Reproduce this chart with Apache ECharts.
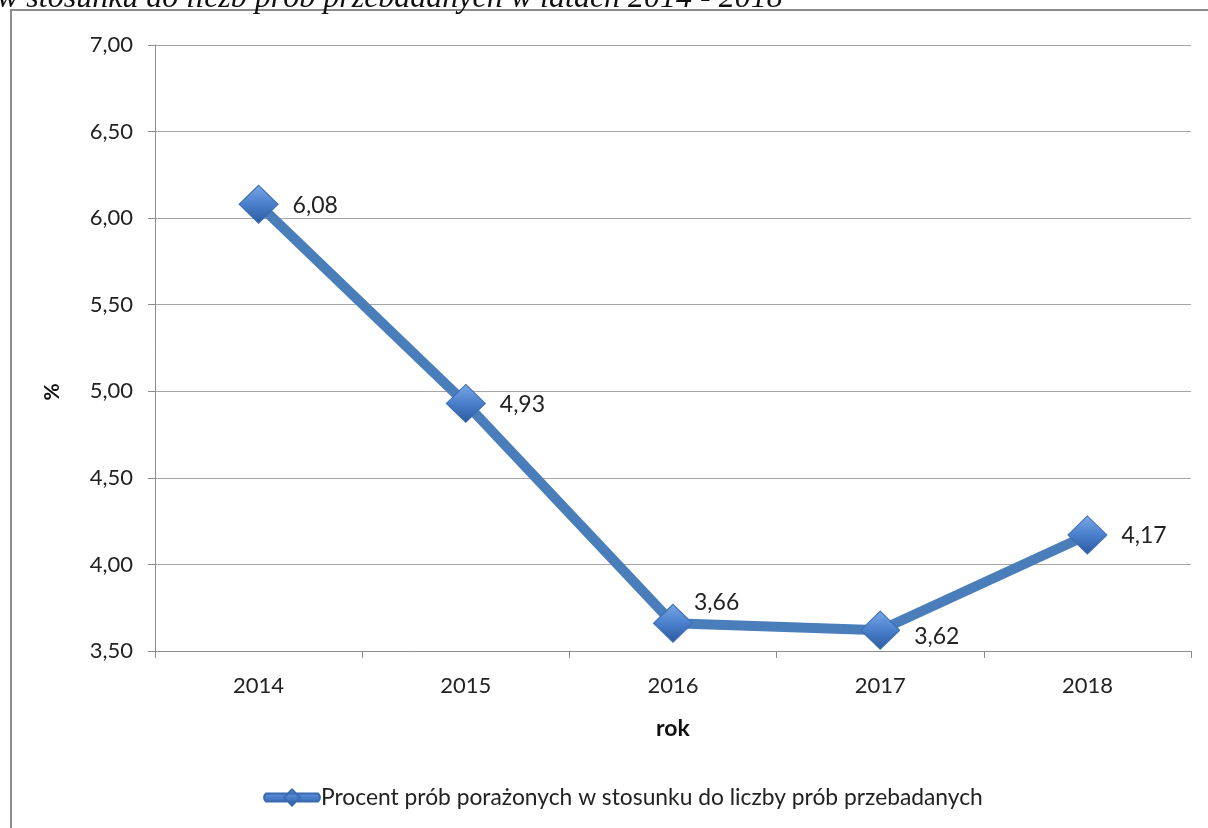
<!DOCTYPE html>
<html><head><meta charset="utf-8">
<script src="https://cdn.jsdelivr.net/npm/echarts@6/dist/echarts.min.js"></script>
<style>html,body{margin:0;padding:0;background:#fff}#c{width:1208px;height:828px}</style>
</head><body><div id="c"></div>
<script>
var categories = ['2014', '2015', '2016', '2017', '2018'];
var values = [6.08, 4.93, 3.66, 3.62, 4.17];
var seriesName = 'Procent prób porażonych w stosunku do liczby prób przebadanych';
var titleText = 'w stosunku do liczb prób przebadanych w latach 2014 - 2018';
var yAxisName = '%';

var chart = echarts.init(document.getElementById('c'));
var fontFam = 'Lato, "Open Sans", sans-serif';
var dataItems = values.map(function (v, i) {
  var lp = {position: 'right', distance: 14, offset: [0, 1]};
  if (i === 2) { lp = {position: 'right', distance: 0, offset: [1, -21]}; }
  if (i === 3) { lp = {position: 'right', distance: 0, offset: [14, 6]}; }
  return {value: v, label: lp};
});
chart.setOption({
  animation: false,
  grid: {left: 155, right: 17, top: 45, bottom: 177},
  graphic: [
    {type: 'rect', shape: {x: 11, y: 10, width: 1220, height: 840}, style: {fill: 'none', stroke: '#8c8c8c', lineWidth: 2}},
    {type: 'text', left: -3, top: -17, style: {text: titleText, font: 'italic 32px "Liberation Serif", serif', fill: '#111'}},
    {type: 'text', x: 52, y: 392, rotation: Math.PI / 2, style: {text: yAxisName, font: 'bold 21px Lato, sans-serif', fill: '#111', textAlign: 'center', textVerticalAlign: 'middle'}}
  ],
  legend: {
    top: 781, left: 258,
    itemWidth: 60, itemHeight: 16, itemGap: 0,
    textStyle: {fontSize: 22.8, fontFamily: fontFam, color: '#222', padding: [0,0,0,-6]},
    data: [{name: seriesName, icon: 'path://M4,4 L56,4 Q60,8 56,12 L4,12 Q0,8 4,4 Z M30,0 L38,8 L30,16 L22,8 Z'}]
  },
  xAxis: {
    type: 'category', data: categories, boundaryGap: true,
    name: 'rok', nameLocation: 'middle', nameGap: 66,
    nameTextStyle: {fontSize: 23, fontWeight: 'bold', fontFamily: fontFam, color: '#111'},
    axisLine: {lineStyle: {color: '#8c8c8c', width: 1}},
    axisTick: {show: true, length: 7, lineStyle: {color: '#8c8c8c'}},
    axisLabel: {fontSize: 22, fontFamily: fontFam, color: '#222', margin: 24}
  },
  yAxis: {
    type: 'value', min: 3.5, max: 7, interval: 0.5,
    axisLine: {show: true, lineStyle: {color: '#8c8c8c', width: 1}},
    axisTick: {show: true, length: 7, lineStyle: {color: '#8c8c8c'}},
    splitLine: {lineStyle: {color: '#a6a6a6', width: 1}},
    axisLabel: {fontSize: 22, fontFamily: fontFam, color: '#222', margin: 22,
      formatter: function (v) { return v.toFixed(2).replace('.', ','); }}
  },
  series: [{
    name: seriesName, type: 'line', data: dataItems,
    symbol: 'diamond', symbolSize: [39, 38],
    lineStyle: {color: '#4a7ebb', width: 10},
    itemStyle: {
      color: {type: 'linear', x: 0, y: 0, x2: 0, y2: 1, colorStops: [
        {offset: 0, color: '#7aa7e6'}, {offset: 0.5, color: '#4a7fcc'}, {offset: 1, color: '#2c5a9e'}]},
      borderColor: '#3a6bb0', borderWidth: 1
    },
    label: {show: true, fontSize: 23, fontFamily: fontFam, color: '#222',
      formatter: function (p) { return p.value.toFixed(2).replace('.', ','); }}
  }]
});
</script></body></html>
